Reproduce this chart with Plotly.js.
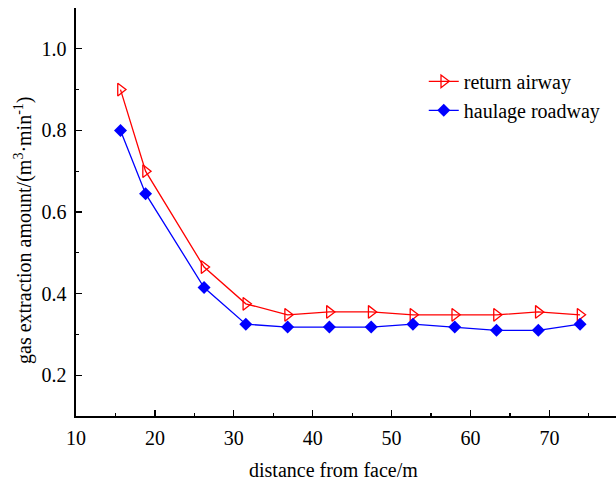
<!DOCTYPE html>
<html>
<head>
<meta charset="utf-8">
<script src="https://cdn.plot.ly/plotly-3.0.1.min.js"></script>
<style>html,body{margin:0;padding:0;background:#fff;}#chart{width:616px;height:483px;}</style>
</head>
<body>
<div id="chart"></div>
<script>
// distances from face (m)
const distance = [15, 18, 25, 30, 35, 40, 45, 50, 55, 60, 65, 70];
// gas extraction amount (m3/min)
const returnAirway   = [0.90, 0.70, 0.465, 0.375, 0.348, 0.355, 0.355, 0.348, 0.348, 0.348, 0.355, 0.348];
const haulageRoadway = [0.80, 0.645, 0.415, 0.325, 0.318, 0.318, 0.318, 0.325, 0.318, 0.31, 0.31, 0.325];
const seriesNames = ['return airway', 'haulage roadway'];
const xTickVals = [10, 20, 30, 40, 50, 60, 70];
const yTickVals = [0.2, 0.4, 0.6, 0.8, 1.0];
const xTitle = 'distance from face/m';
const yTitle = 'gas extraction amount/(m<sup>3</sup>·min<sup>-1</sup>)';

const FONT = 'Liberation Serif';

const traces = [
  // empty helper trace so that the visible tick axis is drawn
  {
    x: xTickVals, y: xTickVals.map(() => null), type: 'scatter', mode: 'lines',
    xaxis: 'x', yaxis: 'y', showlegend: false, hoverinfo: 'skip', line: {width: 0}
  },
  {
    x: distance, y: returnAirway, name: seriesNames[0],
    type: 'scatter', mode: 'lines+markers', xaxis: 'x2', yaxis: 'y',
    line: {color: '#ff0000', width: 1.3},
    marker: {symbol: 'triangle-right-open', size: 11, color: '#ff0000', line: {color: '#ff0000', width: 1.3}}
  },
  {
    x: distance, y: haulageRoadway, name: seriesNames[1],
    type: 'scatter', mode: 'lines+markers', xaxis: 'x2', yaxis: 'y',
    line: {color: '#0000ff', width: 1.3},
    marker: {symbol: 'diamond', size: 10, color: '#0000ff', line: {width: 0}}
  }
];

const layout = {
  width: 616, height: 483,
  margin: {l: 76, r: 0, t: 8, b: 67},
  paper_bgcolor: '#ffffff', plot_bgcolor: '#ffffff',
  font: {family: FONT, color: '#000', size: 20},
  showlegend: true,
  legend: {
    x: 0.644, xanchor: 'left', y: 0.868, yanchor: 'top',
    bgcolor: 'rgba(0,0,0,0)', borderwidth: 0,
    font: {family: FONT, size: 20, color: '#000'},
    tracegroupgap: 0
  },
  xaxis: {
    range: [10, 78.44], tickmode: 'array', tickvals: xTickVals,
    showgrid: false, zeroline: false, showline: true, linecolor: '#000', linewidth: 1.6,
    ticks: 'inside', ticklen: 6, tickwidth: 1.3, tickcolor: '#000',
    minor: {tickmode: 'linear', tick0: 15, dtick: 10, ticks: 'inside', ticklen: 3, tickwidth: 1.2, tickcolor: '#000', showgrid: false},
    tickfont: {family: FONT, size: 20, color: '#000'},
    ticklabelstandoff: 3,
    fixedrange: true
  },
  xaxis2: {
    range: [9.674, 74.3], overlaying: 'x', visible: false, showgrid: false, zeroline: false, fixedrange: true
  },
  yaxis: {
    range: [0.1, 1.1], tickmode: 'array', tickvals: yTickVals, tickformat: '.1f',
    showgrid: false, zeroline: false, showline: true, linecolor: '#000', linewidth: 1.6,
    ticks: 'inside', ticklen: 6, tickwidth: 1.3, tickcolor: '#000',
    minor: {tickmode: 'linear', tick0: 0.1, dtick: 0.2, ticks: 'inside', ticklen: 3, tickwidth: 1.2, tickcolor: '#000', showgrid: false},
    tickfont: {family: FONT, size: 20, color: '#000'},
    ticklabelstandoff: 4,
    fixedrange: true
  },
  annotations: [
    {text: xTitle, xref: 'paper', yref: 'paper', x: (333 - 76) / 540, y: (416 - 470) / 408,
     xanchor: 'center', yanchor: 'middle', showarrow: false, font: {family: FONT, size: 20, color: '#000'}},
    {text: yTitle, xref: 'paper', yref: 'paper', x: (23 - 76) / 540, y: (416 - 230) / 408,
     xanchor: 'center', yanchor: 'middle', textangle: -90, showarrow: false, font: {family: FONT, size: 20, color: '#000'}}
  ]
};

Plotly.newPlot('chart', traces, layout, {displayModeBar: false, staticPlot: true});
</script>
</body>
</html>
